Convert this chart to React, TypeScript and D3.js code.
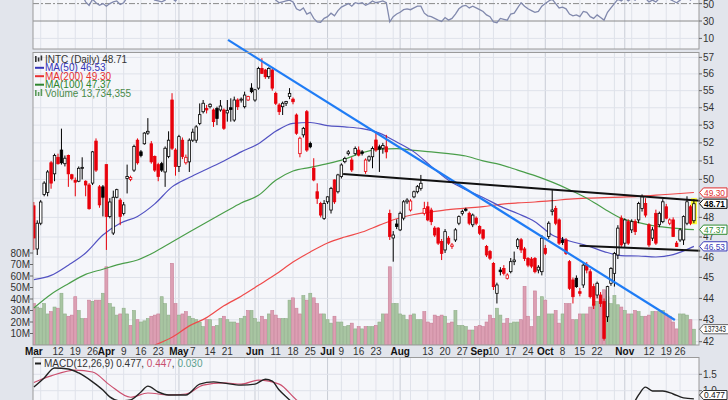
import React from 'react';
import * as d3 from 'd3';

// ---------- DATA ----------
const holidays = ['2018-03-30', '2018-05-28', '2018-07-04', '2018-09-03', '2018-11-22'];

// [open, high, low, close] per trading day, Mar 1 2018 .. Nov 30 2018
const ohlc: number[][] = [
  [48.6,48.8,46.35,46.95],[46.4,47.85,46.1,47.7],[47.7,48.9,47.6,48.8],[49.2,49.9,49.1,49.8],[49.3,50.5,49.1,50.4],
  [50.9,51.0,49.5,49.8],[50.3,51.4,49.9,51.3],[51.2,51.4,50.8,50.85],[51.6,52.8,50.8,50.9],[50.85,51.3,50.7,51.15],
  [51.3,51.35,49.6,50.3],[50.25,50.3,49.95,50.05],[49.95,50.1,49.1,49.85],[49.9,50.7,49.85,50.6],[50.6,51.2,50.0,50.65],
  [49.9,49.95,49.1,49.7],[49.7,49.8,48.4,48.45],[49.8,51.55,49.7,51.5],[52.1,52.25,50.4,50.5],[49.6,49.7,48.5,48.65],
  [49.6,49.7,48.05,49.05],[50.8,50.8,46.35,48.05],[48.05,49.0,47.95,48.8],[47.2,49.4,47.1,49.05],[49.05,49.5,49.0,49.45],
  [48.9,49.0,47.6,48.05],[48.2,48.8,48.1,48.65],[50.05,50.8,49.25,50.15],[50.0,50.2,49.9,50.1],[50.5,51.9,50.4,51.8],
  [52.15,52.25,50.8,50.9],[51.5,51.6,51.2,51.3],[51.95,52.6,51.9,52.55],[52.55,53.4,52.45,52.65],[51.95,52.1,50.85,50.95],
  [51.25,51.3,50.4,50.5],[50.8,50.9,49.9,50.15],[50.85,50.95,50.4,50.5],[50.4,51.8,49.6,51.7],[51.25,52.65,51.15,52.15],
  [54.45,54.85,51.6,51.7],[51.6,51.7,50.2,50.7],[50.7,52.45,50.4,52.35],[52.15,52.3,51.1,51.25],[50.9,51.35,50.8,51.2],
  [50.95,52.25,50.4,52.15],[52.15,52.8,52.05,52.6],[52.15,53.0,52.0,52.9],[53.1,54.25,53.0,53.6],[53.77,54.45,53.67,54.26],
  [53.96,54.16,53.67,53.87],[54.06,54.26,53.96,54.2],[53.87,53.96,52.9,53.2],[53.96,54.06,53.0,53.38],[53.87,54.45,53.77,54.1],
  [53.87,53.96,52.73,52.82],[53.7,54.45,53.2,53.85],[54.0,54.55,53.2,53.9],[53.29,54.65,53.19,54.45],[54.45,54.55,53.87,54.06],
  [54.45,54.6,54.3,54.5],[54.06,54.94,53.96,54.74],[54.45,54.7,54.4,54.65],[55.15,55.44,54.85,54.94],[54.45,55.1,54.35,55.05],
  [55.15,56.43,55.05,56.33],[56.33,56.95,56.0,56.03],[56.23,56.3,55.7,55.83],[55.83,56.4,55.7,56.33],[56.23,56.3,55.0,55.15],
  [54.84,54.94,54.16,54.26],[54.16,54.26,53.58,53.77],[54.06,54.36,53.58,54.26],[54.26,54.4,54.1,54.36],[54.65,55.15,54.5,54.84],
  [54.5,54.6,54.2,54.35],[53.58,53.67,52.45,52.54],[51.4,52.35,51.2,52.26],[52.45,52.9,52.3,52.82],[53.77,53.87,51.5,51.6],
  [51.96,52.07,51.7,51.78],[50.6,51.15,49.9,49.97],[49.34,49.79,48.7,48.99],[48.72,48.81,48.0,48.12],[47.95,48.9,47.87,48.72],
  [48.81,49.1,48.7,49.07],[48.38,49.6,48.2,49.52],[49.97,50.0,48.7,48.81],[49.34,50.3,49.25,50.24],[50.15,50.87,50.05,50.78],
  [50.96,51.23,50.87,51.14],[51.4,51.6,51.3,51.5],[51.05,51.2,50.4,50.51],[51.4,51.8,51.3,51.69],[51.6,51.8,51.25,51.32],
  [51.5,51.6,51.3,51.42],[50.42,51.14,50.3,51.05],[51.05,51.3,50.95,51.23],[51.23,51.8,50.6,51.69],[52.16,52.63,51.5,51.6],
  [51.78,51.9,50.4,51.65],[51.7,52.0,51.4,51.85],[51.78,52.45,51.14,51.5],[48.2,48.4,46.85,47.03],[46.95,47.3,45.77,47.1],
  [47.66,47.9,47.4,47.53],[47.36,48.3,47.3,48.21],[47.96,48.9,47.85,48.81],[48.81,49.0,48.7,48.9],[48.38,48.95,48.3,48.85],
  [49.07,49.4,49.0,49.34],[49.34,49.7,49.25,49.61],[49.52,50.24,49.4,49.79],[48.2,48.81,48.1,48.46],[48.55,48.81,47.8,47.87],
  [48.38,48.5,47.6,47.78],[47.45,47.55,47.0,47.1],[47.45,47.5,46.6,46.69],[46.77,46.9,45.85,46.18],[46.35,47.4,46.2,47.27],
  [46.94,47.05,46.6,46.69],[46.52,46.7,46.4,46.6],[46.85,47.45,46.75,47.36],[47.7,48.1,47.6,48.04],[48.21,48.4,48.1,48.3],
  [48.42,48.5,48.3,48.38],[48.21,48.3,47.6,47.7],[47.62,48.2,47.5,48.12],[47.96,48.05,47.6,47.7],[47.53,47.6,47.1,47.19],
  [47.36,47.4,46.85,46.94],[46.52,46.6,46.0,46.1],[46.27,46.35,45.85,45.94],[45.68,45.75,44.4,44.56],[44.24,44.75,43.76,44.64],
  [45.36,45.5,45.1,45.28],[45.44,45.6,45.1,45.2],[44.96,45.2,44.9,45.12],[45.28,45.95,45.2,45.77],[45.77,46.27,45.6,45.85],
  [46.52,46.95,46.4,46.86],[46.86,46.95,46.2,46.35],[46.4,46.5,45.8,45.93],[45.93,46.0,45.5,45.6],[45.9,46.0,45.45,45.55],
  [45.93,46.0,45.2,45.28],[45.36,45.6,45.2,45.5],[45.28,47.1,45.1,46.94],[46.43,46.6,46.1,46.18],[47.02,47.8,46.9,47.7],
  [48.3,49.43,48.1,48.38],[48.46,48.6,47.6,47.7],[47.87,47.95,46.6,46.69],[46.85,47.0,46.6,46.72],[46.85,46.95,46.1,46.18],
  [45.77,45.85,44.4,44.48],[44.88,45.0,43.76,44.08],[44.96,45.1,44.5,44.56],[44.32,44.5,44.1,44.24],[44.64,45.7,44.5,45.6],
  [45.6,45.75,45.2,45.36],[45.28,45.4,44.0,44.08],[44.56,44.7,43.5,43.68],[44.16,44.8,44.0,44.72],[44.16,44.3,43.6,43.76],
  [43.85,44.0,42.05,42.15],[43.14,44.6,42.9,44.56],[44.72,45.5,44.6,45.44],[45.2,46.25,44.56,46.18],[46.1,47.6,45.9,47.45],
  [47.96,48.1,46.5,46.6],[46.69,47.95,46.5,47.87],[47.78,47.9,46.6,46.69],[47.36,47.9,47.2,47.78],[47.78,47.9,47.1,47.27],
  [47.87,48.81,47.7,48.72],[48.46,49.2,48.3,49.07],[48.72,49.0,48.0,48.12],[47.62,47.7,46.5,46.6],[46.94,47.5,46.8,47.36],
  [48.21,48.4,46.6,46.69],[47.62,48.3,47.5,48.21],[47.78,48.95,47.7,48.81],[48.55,48.7,47.9,47.96],[47.7,47.95,47.6,47.87],
  [47.87,48.0,47.0,47.02],[46.69,46.8,46.5,46.52],[46.85,47.45,46.75,47.36],[46.85,48.1,46.6,48.04],[47.7,49.1,47.6,48.81],
  [48.55,48.65,47.6,47.7],[47.83,48.95,47.7,48.71],
];

// volume, millions of shares
const volumeM: number[] = [
  36,33,32,36,27,29,33,32,45,27,25,26,42,30,23,23,39,38,39,39,45,
  68,
  36,33,26,27,32,27,17,30,22,20,21,23,25,26,27,42,36,26,
  71,
  36,26,27,29,25,23,22,20,
  16,22,22,16,17,23,25,22,20,20,19,23,25,30,30,23,20,25,22,27,30,26,23,23,23,39,41,32,27,43,39,45,41,36,27,27,22,19,25,20,20,16,17,19,14,16,14,16,16,
  16,17,20,27,27,68,36,36,27,26,22,26,27,22,22,29,20,19,26,25,26,25,19,20,30,17,17,16,13,13,16,17,16,20,26,23,32,26,19,23,19,20,20,22,51,
  25,16,47,25,42,39,27,27,30,19,27,36,36,22,22,27,27,27,33,35,38,42,48,42,36,43,35,33,30,27,27,30,29,25,25,26,29,29,29,30,27,25,20,14,27,27,26,22,13.73,
];

const maIdx = [0,5,10,15,20,25,30,35,40,45,50,55,60,65,70,75,80,85,90,95,100,105,110,115,120,125,130,135,140,145,150,155,160,165,170,175,180,185,191];
const ma50 = [44.9,45.1,45.6,46.2,47.1,47.7,48.05,48.7,49.6,50.1,50.55,51.0,51.5,51.95,52.65,53.1,53.15,52.97,52.9,52.8,52.55,52.05,51.5,50.7,49.95,49.45,49.04,48.57,48.2,47.78,47.1,46.8,46.57,46.27,46.07,46.05,46.0,46.12,46.53];
const ma100 = [43.55,44.2,44.7,45.15,45.4,45.65,45.85,46.25,46.75,47.25,47.75,48.25,48.75,49.15,49.95,50.45,50.65,50.85,51.1,51.45,51.65,51.68,51.58,51.5,51.4,51.27,51.0,50.8,50.5,50.2,49.85,49.45,49.0,48.45,47.95,47.73,47.55,47.45,47.37];
const ma200Idx = [35,40,45,50,55,60,65,70,75,80,85,90,95,100,105,110,115,120,125,130,135,140,145,150,155,160,165,170,175,180,185,191];
const ma200 = [41.85,42.2,42.72,43.1,43.65,44.1,44.62,45.15,45.75,46.25,46.7,47.0,47.25,47.6,47.93,48.15,48.28,48.4,48.48,48.56,48.68,48.75,48.8,48.87,48.95,49.0,49.03,49.06,49.1,49.16,49.22,49.3];

const rsi: number[] = [
  56,58,60,63,65,62,66,64,62,63,60,58,57,59,60,
  52,48,55,51,48,50,47,50,52,53,49,51,
  57,57,60,56,58,61,62,57,
  54,53,52,54,58,56,53,58,55,
  58,61,62,64,66,67,65,66,62,63,65,60,64,64,67,65,66,67,66,68,70,68,66,68,64,60,
  54,51,52,53,54,52,44,
  42,45,38,40,33,29,
  28.5,33,35,39,36,42,46,48,50,
  47,51,50,51,48,50,53,51,52,53,51,
  29,
  35,38,40,43,44,43,45,47,
  47,39,36,35,33,31,29.5,34,
  31,33,38,44,47,
  48,45,47,45,43,41,37,
  35,29,28,33,32,31,
  38,39,45,51,47,44,42,40,41,
  47,50,53,55,50,45,46,44,
  38,36,37,35,41,40,
  35,33,37,34,31,
  40,45,50,55,
  53,57,53,56,54,59,61,56,52,54,52,56,58,55,55,53,51,54,57,59,54,58,
];

const macdIdx = [0,3,6,10,13,17,20,22,25,28,31,33,36,39,44,48,52,55,60,64,67,69,71,74,77,82,90,100,110,120,130,140,150,160,166,170,173,175,177,179,182,185,188,191];
const macdLine = [1.11,1.39,1.69,1.66,1.54,1.27,1.02,0.81,0.69,0.72,0.96,1.14,0.96,0.87,0.87,1.2,1.27,1.23,1.17,1.2,1.35,1.29,1.02,0.72,0.41,-0.1,-0.4,-0.2,-0.3,-0.6,-0.8,-0.9,-0.7,-1.0,-0.8,0.0,0.5,0.87,1.11,0.99,0.99,0.9,0.78,0.75];
const sigIdx = [0,5,12,17,22,28,33,39,44,49,55,60,65,71,76,82,100,130,160,170,175,180,185,191];
const sigLine = [1.25,1.45,1.63,1.57,1.17,0.8,0.93,0.87,0.9,1.17,1.24,1.2,1.32,1.2,0.72,0.3,-0.2,-0.6,-0.85,-0.2,0.4,0.6,0.7,0.7];

// trend lines drawn on the chart: [dayIndex, price]
const blueTrend = [[56.2, 58.08], [185.5, 42.99]];
const upperTrend = [[89.5, 50.29], [192.8, 48.87]];
const lowerTrend = [[157.9, 46.56], [192.8, 46.31]];

const xTicks: [string, string][] = [
  ['2018-03-01','Mar'],['2018-03-12','12'],['2018-03-19','19'],['2018-03-26','26'],
  ['2018-04-02','Apr'],['2018-04-09','9'],['2018-04-16','16'],['2018-04-23','23'],
  ['2018-05-01','May'],['2018-05-07','7'],['2018-05-14','14'],['2018-05-21','21'],
  ['2018-06-01','Jun'],['2018-06-11','11'],['2018-06-18','18'],['2018-06-25','25'],
  ['2018-07-02','Jul'],['2018-07-09','9'],['2018-07-16','16'],['2018-07-23','23'],
  ['2018-08-01','Aug'],['2018-08-13','13'],['2018-08-20','20'],['2018-08-27','27'],
  ['2018-09-04','Sep'],['2018-09-10','10'],['2018-09-17','17'],['2018-09-24','24'],
  ['2018-10-01','Oct'],['2018-10-08','8'],['2018-10-15','15'],['2018-10-22','22'],
  ['2018-11-01','Nov'],['2018-11-12','12'],['2018-11-19','19'],['2018-11-26','26'],
];
const priceTicks = [42,43,44,45,46,47,48,49,50,51,52,53,54,55,56,57];
const volTicks = [10,20,30,40,50,60,70,80];
const rsiTicks = [10,30,50];
const macdTicks = [1.0,1.5];

const tags = [
  { v: 49.30, text: '49.30', color: '#e03030', bold: false },
  { v: 48.71, text: '48.71', color: '#000000', bold: true },
  { v: 47.37, text: '47.37', color: '#2f8a2f', bold: false },
  { v: 46.53, text: '46.53', color: '#3a3ab8', bold: false },
];

// ---------- HELPERS ----------
function tradingDays(): string[] {
  const out: string[] = [];
  const d = new Date(2018, 2, 1);
  const end = new Date(2018, 10, 30);
  while (d <= end) {
    const wd = d.getDay();
    const s = `${d.getFullYear()}-${String(d.getMonth() + 1).padStart(2, '0')}-${String(d.getDate()).padStart(2, '0')}`;
    if (wd !== 0 && wd !== 6 && !holidays.includes(s)) out.push(s);
    d.setDate(d.getDate() + 1);
  }
  return out;
}

const FONT = '"Liberation Sans", Arial, sans-serif';

export default function App() {
  const days = tradingDays();
  const N = ohlc.length;
  const L = 33, R = 699;
  const pTop = 52.5, pBot = 345;
  const mTop = 357.5;

  const x = d3.scaleLinear().domain([0, N - 1]).range([33.8, 693.9]);
  const y = d3.scaleLog().domain([42, 57]).range([341.7, 57.4]);
  const yv = d3.scaleLinear().domain([0, 80]).range([345, 253]);
  const yr = d3.scaleLinear().domain([10, 50]).range([38.4, 3.6]);
  const ym = d3.scaleLinear().domain([1.0, 1.5]).range([390.7, 374.3]);

  const dates = days.map(s => new Date(s + 'T00:00:00'));
  const weekStarts: number[] = [];
  const monthStarts: number[] = [];
  dates.forEach((d, i) => {
    if (i === 0) return;
    const p = dates[i - 1];
    if (d.getMonth() !== p.getMonth()) monthStarts.push(i);
    else if (d.getDay() < p.getDay()) weekStarts.push(i);
  });

  const lineIdx = (idx: number[], vals: number[], ys: any) =>
    d3.line<number>().x((_, k) => x(idx[k])).y((v) => ys(v)).curve(d3.curveMonotoneX)(vals) || '';

  const rsiPath = d3.line<number>().x((_, i) => x(i)).y(v => yr(v))(rsi) || '';

  const cw = 2.5;
  const plotBg = '#f5f6fa';
  const gridC = '#dfe2ea';
  const monthC = '#c9cdd6';

  const grids = (top: number, bot: number) => (
    <g>
      {weekStarts.map(i => <line key={'w' + i} x1={x(i)} x2={x(i)} y1={top} y2={bot} stroke={gridC} strokeWidth={1} />)}
      {monthStarts.map(i => <line key={'m' + i} x1={x(i)} x2={x(i)} y1={top} y2={bot} stroke={monthC} strokeWidth={1} />)}
    </g>
  );

  const tagPath = (x0: number, x1: number, yc: number, hh: number) =>
    `M${x0},${yc} L${x0 + 4},${yc - hh} L${x1},${yc - hh} L${x1},${yc + hh} L${x0 + 4},${yc + hh} Z`;

  // price labels hidden behind the value tags
  const visiblePriceTicks = priceTicks.filter(t => tags.every(tg => Math.abs(y(t) - y(tg.v)) > 6.5));

  return (
    <svg width={728} height={400} style={{ position: 'absolute', left: 0, top: 0, fontFamily: FONT }}>
      <defs>
        <clipPath id="pclip"><rect x={L} y={pTop} width={R - L} height={pBot - pTop} /></clipPath>
        <clipPath id="rclip"><rect x={L} y={-20} width={R - L} height={69} /></clipPath>
        <clipPath id="mclip"><rect x={L} y={mTop} width={R - L} height={60} /></clipPath>
      </defs>
      <rect x={0} y={0} width={728} height={400} fill="#e2e5ec" />
      {/* RSI panel */}
      <rect x={L} y={-5} width={R - L} height={54} fill={plotBg} />
      {grids(-5, 49)}
      <line x1={L} x2={R} y1={yr(10)} y2={yr(10)} stroke={gridC} />
      <line x1={L} x2={R} y1={yr(50)} y2={yr(50)} stroke="#8a8a8a" strokeDasharray="6,2,2,2" />
      <line x1={L} x2={R} y1={yr(30)} y2={yr(30)} stroke="#8a8a8a" />
      <path d={rsiPath} fill="none" stroke="#8189ad" strokeWidth={1.3} clipPath="url(#rclip)" />
      <rect x={L} y={-5} width={R - L} height={54} fill="none" stroke="#9a9a9a" />
      {rsiTicks.map(t => (
        <g key={'rt' + t}>
          <line x1={R} x2={R + 3} y1={yr(t)} y2={yr(t)} stroke="#666" />
          <text x={R + 4} y={Math.max(yr(t) + 3.5, 8)} fontSize={10} fill="#333">{t}</text>
        </g>
      ))}

      {/* Price panel */}
      <rect x={L} y={pTop} width={R - L} height={pBot - pTop} fill={plotBg} />
      {grids(pTop, pBot)}
      {priceTicks.map(t => <line key={'pg' + t} x1={L} x2={R} y1={y(t)} y2={y(t)} stroke={gridC} />)}
      <g clipPath="url(#pclip)">
        {/* volume */}
        {volumeM.map((v, i) => {
          const pc = i === 0 ? 49 : ohlc[i - 1][3];
          const up = ohlc[i][3] >= pc;
          return (
            <rect key={'v' + i} x={x(i) - 1.5} y={yv(v)} width={3} height={345 - yv(v)}
              fill={up ? '#a8c5a2' : '#dc9fb3'} stroke={up ? '#8fae89' : '#c98098'} strokeWidth={0.6} />
          );
        })}
        {/* moving averages */}
        <path d={lineIdx(ma200Idx, ma200, y)} fill="none" stroke="#ef4a4a" strokeWidth={1.2} />
        <path d={lineIdx(maIdx, ma100, y)} fill="none" stroke="#4a9e4a" strokeWidth={1.2} />
        <path d={lineIdx(maIdx, ma50, y)} fill="none" stroke="#5252c2" strokeWidth={1.2} />
        {/* yellow highlight of last candle */}
        <rect x={x(N - 1) - 3} y={y(ohlc[N - 1][1]) - 1} width={6} height={y(ohlc[N - 1][2]) - y(ohlc[N - 1][1]) + 2} fill="#ffff33" />
        {/* candles */}
        {ohlc.map(([o, h, l, c], i) => {
          const pc = i === 0 ? 49 : ohlc[i - 1][3];
          const col = c >= pc ? '#000' : '#e8000b';
          const hollow = c >= o;
          const top = y(Math.max(o, c));
          const bh = Math.max(1, y(Math.min(o, c)) - top);
          return (
            <g key={'c' + i}>
              <line x1={x(i)} x2={x(i)} y1={y(h)} y2={y(l)} stroke={col} strokeWidth={1} />
              <rect x={x(i) - cw / 2} y={top} width={cw} height={bh} fill={hollow ? '#ffffff' : col} stroke={col} strokeWidth={0.8} />
            </g>
          );
        })}
      </g>
      {/* trend lines */}
      <line x1={x(blueTrend[0][0])} y1={y(blueTrend[0][1])} x2={x(blueTrend[1][0])} y2={y(blueTrend[1][1])} stroke="#1f7cf5" strokeWidth={2.2} />
      <line x1={x(upperTrend[0][0])} y1={y(upperTrend[0][1])} x2={x(upperTrend[1][0])} y2={y(upperTrend[1][1])} stroke="#111" strokeWidth={2} />
      <line x1={x(lowerTrend[0][0])} y1={y(lowerTrend[0][1])} x2={x(lowerTrend[1][0])} y2={y(lowerTrend[1][1])} stroke="#111" strokeWidth={2} />
      <rect x={L} y={pTop} width={R - L} height={pBot - pTop} fill="none" stroke="#9a9a9a" />

      {/* legend */}
      <g fontSize={10}>
        <rect x={35} y={56} width={1.6} height={6} fill="#333" />
        <rect x={37.8} y={57.5} width={1.6} height={4} fill="#333" />
        <rect x={40.6} y={55.5} width={1.6} height={5} fill="#333" />
        <text x={45} y={62.5} fill="#333" textLength={82} lengthAdjust="spacing">INTC (Daily) 48.71</text>
        <line x1={35} x2={44} y1={67.8} y2={67.8} stroke="#3434b8" strokeWidth={2} />
        <text x={45} y={71} fill="#3434b8">MA(50) 46.53</text>
        <line x1={35} x2={44} y1={76.2} y2={76.2} stroke="#e83030" strokeWidth={2} />
        <text x={45} y={79.5} fill="#e83030">MA(200) 49.30</text>
        <line x1={35} x2={44} y1={84.7} y2={84.7} stroke="#2e862e" strokeWidth={2} />
        <text x={45} y={88} fill="#2e862e">MA(100) 47.37</text>
        <rect x={35} y={90} width={1.6} height={6} fill="#5a9a5a" />
        <rect x={37.8} y={92} width={1.6} height={4} fill="#5a9a5a" />
        <rect x={40.6} y={89} width={1.6} height={7} fill="#5a9a5a" />
        <text x={45} y={96.5} fill="#4a8a4a">Volume 13,734,355</text>
      </g>

      {/* right price axis */}
      {priceTicks.map(t => (
        <line key={'ptk' + t} x1={R} x2={R + 3} y1={y(t)} y2={y(t)} stroke="#666" />
      ))}
      {visiblePriceTicks.map(t => (
        <text key={'pt' + t} x={R + 4} y={y(t) + 3.5} fontSize={10} fill="#333">{t}</text>
      ))}
      {tags.map(t => {
        const yc = y(t.v);
        return (
          <g key={t.text}>
            <path d={tagPath(R + 0.5, 727, yc, 4.6)} fill="#fff" stroke={t.color} strokeWidth={1} />
            <text x={R + 5} y={yc + 3.2} fontSize={9} fill={t.color} fontWeight={t.bold ? 'bold' : 'normal'} textLength={21} lengthAdjust="spacingAndGlyphs">{t.text}</text>
          </g>
        );
      })}
      {(() => {
        const yc = yv(volumeM[N - 1]);
        return (
          <g>
            <path d={tagPath(R + 0.5, 730, yc, 4.6)} fill="#fff" stroke="#666" strokeWidth={1} />
            <text x={R + 5} y={yc + 3.2} fontSize={9} fill="#222" textLength={22} lengthAdjust="spacingAndGlyphs">137343</text>
          </g>
        );
      })()}

      {/* left volume axis */}
      {volTicks.map(t => (
        <g key={'vt' + t}>
          <line x1={L - 3} x2={L} y1={yv(t)} y2={yv(t)} stroke="#666" />
          <text x={L - 3} y={yv(t) + 3.5} fontSize={10} fill="#333" textAnchor="end">{t}M</text>
        </g>
      ))}

      {/* x axis labels */}
      {xTicks.map(([d, lab]) => {
        const i = days.indexOf(d);
        const isMonth = /[A-Za-z]/.test(lab);
        return (
          <text key={d} x={x(i)} y={355} fontSize={10} textAnchor="middle" fill={isMonth ? '#111' : '#333'} fontWeight={isMonth ? 'bold' : 'normal'}>{lab}</text>
        );
      })}

      {/* MACD panel */}
      <rect x={L} y={mTop} width={R - L} height={60} fill={plotBg} />
      {grids(mTop, 420)}
      {macdTicks.map(t => <line key={'mg' + t} x1={L} x2={R} y1={ym(t)} y2={ym(t)} stroke={gridC} />)}
      <g clipPath="url(#mclip)">
        <path d={lineIdx(sigIdx, sigLine, ym)} fill="none" stroke="#cc4f6e" strokeWidth={1.2} />
        <path d={lineIdx(macdIdx, macdLine, ym)} fill="none" stroke="#222" strokeWidth={1.4} />
      </g>
      <rect x={L} y={mTop} width={R - L} height={60} fill="none" stroke="#9a9a9a" />
      {macdTicks.map(t => (
        <g key={'mt' + t}>
          <line x1={R} x2={R + 3} y1={ym(t)} y2={ym(t)} stroke="#666" />
          <text x={R + 4} y={ym(t) + 3.5} fontSize={10} fill="#333">{t.toFixed(1)}</text>
        </g>
      ))}
      <g fontSize={10}>
        <line x1={35} x2={41} y1={363.5} y2={363.5} stroke="#222" strokeWidth={2} />
        <text x={44} y={367} fill="#333">MACD(12,26,9) 0.477, <tspan fill="#c8506e">0.447</tspan><tspan fill="#333">, </tspan><tspan fill="#5aa08e">0.030</tspan></text>
      </g>
      <path d={tagPath(R + 0.5, 727, 395, 4.5)} fill="#fff" stroke="#333" />
      <text x={R + 5} y={398.2} fontSize={9} fill="#111" textLength={21} lengthAdjust="spacingAndGlyphs">0.477</text>
    </svg>
  );
}
